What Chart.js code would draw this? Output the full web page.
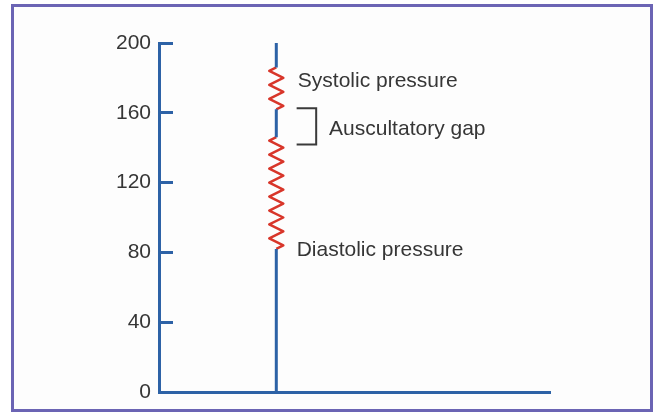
<!DOCTYPE html>
<html>
<head>
<meta charset="utf-8">
<script src="https://cdn.jsdelivr.net/npm/chart.js@4"></script>
<style>
  body { margin: 0; background: #ffffff; }
  #frame {
    position: absolute; left: 11px; top: 4px;
    width: 636px; height: 402px;
    border: 3px solid #6b64b4;
    background: #fdfdfd;
  }
  #chart { position: absolute; left: 0; top: 0; }
</style>
</head>
<body>
<div id="frame"></div>
<canvas id="chart" width="655" height="415"></canvas>
<script>
// axe des pressions (mmHg)
var yTicks = [0, 40, 80, 120, 160, 200];

// ligne verticale du brassard, coupée aux zigzags
var cuffX = [3, 3, 3, 3, 3, 3, 3, 3];
var cuffY = [0, 82, null, 146, 162, null, 186, 200];

// zigzag systolique
var systolicX = [3, 2.82, 3.18, 2.82, 3.18, 2.82, 3.18, 3];
var systolicY = [186, 184, 180, 176, 172, 168, 164, 162];

// zigzag diastolique
var diastolicX = [3, 2.82, 3.18, 2.82, 3.18, 2.82, 3.18, 2.82, 3.18, 2.82, 3.18, 2.82, 3.18, 2.82, 3.18, 2.82, 3.18, 3];
var diastolicY = [146, 144, 140, 136, 132, 128, 124, 120, 116, 112, 108, 104, 100, 96, 92, 88, 84, 82];

// crochet du trou auscultatoire
var gapX = [3.52, 4.02, 4.02, 3.52];
var gapY = [162.6, 162.6, 141.9, 141.9];

// étiquettes
var noteTexts = ["Systolic pressure", "Auscultatory gap", "Diastolic pressure"];
var noteX = [3.55, 4.35, 3.52];
var noteY = [174.6, 147.3, 77.9];

function toPoints(xs, ys) {
  return xs.map(function (x, i) { return { x: x, y: ys[i] }; });
}

var notesPlugin = {
  id: "notes",
  afterDatasetsDraw: function (chart) {
    var ctx = chart.ctx;
    var xs = chart.scales.x, ys = chart.scales.y;
    ctx.save();
    ctx.font = '21px "Liberation Sans", Arial, sans-serif';
    ctx.fillStyle = "#363636";
    ctx.textAlign = "left";
    ctx.textBaseline = "alphabetic";
    noteTexts.forEach(function (t, i) {
      ctx.fillText(t, xs.getPixelForValue(noteX[i]), ys.getPixelForValue(noteY[i]));
    });
    ctx.restore();
  },
};

var blue = "#2d62a6";
var red = "#d8362a";

new Chart(document.getElementById("chart").getContext("2d"), {
  type: "scatter",
  data: {
    datasets: [
      {
        data: toPoints(cuffX, cuffY),
        showLine: true,
        spanGaps: false,
        borderColor: blue,
        borderWidth: 3,
        pointRadius: 0,
      },
      {
        data: toPoints(systolicX, systolicY),
        showLine: true,
        borderColor: red,
        borderWidth: 2.5,
        borderJoinStyle: "round",
        pointRadius: 0,
      },
      {
        data: toPoints(diastolicX, diastolicY),
        showLine: true,
        borderColor: red,
        borderWidth: 2.5,
        borderJoinStyle: "round",
        pointRadius: 0,
      },
      {
        data: toPoints(gapX, gapY),
        showLine: true,
        borderColor: "#3a3a3a",
        borderWidth: 2,
        borderJoinStyle: "miter",
        pointRadius: 0,
      },
    ],
  },
  options: {
    responsive: false,
    animation: false,
    layout: {
      padding: { left: 99, top: 43, right: 105, bottom: 23 },
    },
    plugins: {
      legend: { display: false },
      tooltip: { enabled: false },
    },
    scales: {
      x: {
        type: "linear",
        min: 0,
        max: 10,
        grid: { display: false },
        ticks: { display: false },
        border: { display: true, color: blue, width: 3 },
        afterFit: function (scale) { scale.height = 0; },
      },
      y: {
        min: 0,
        max: 200,
        afterBuildTicks: function (scale) {
          scale.ticks = yTicks.map(function (v) { return { value: v }; });
        },
        grid: {
          display: true,
          drawOnChartArea: false,
          drawTicks: true,
          tickLength: -14,
          color: blue,
          lineWidth: 3,
        },
        border: { display: true, color: blue, width: 3 },
        ticks: {
          padding: 22,
          color: "#363636",
          font: { family: '"Liberation Sans", Arial, sans-serif', size: 21 },
        },
        afterFit: function (scale) {
          // les graduations sont tournées vers l'intérieur : pas de marge verticale
          scale.width = 60;
          scale.paddingTop = 0;
          scale.paddingBottom = 0;
        },
      },
    },
  },
  plugins: [notesPlugin],
});
</script>
</body>
</html>
